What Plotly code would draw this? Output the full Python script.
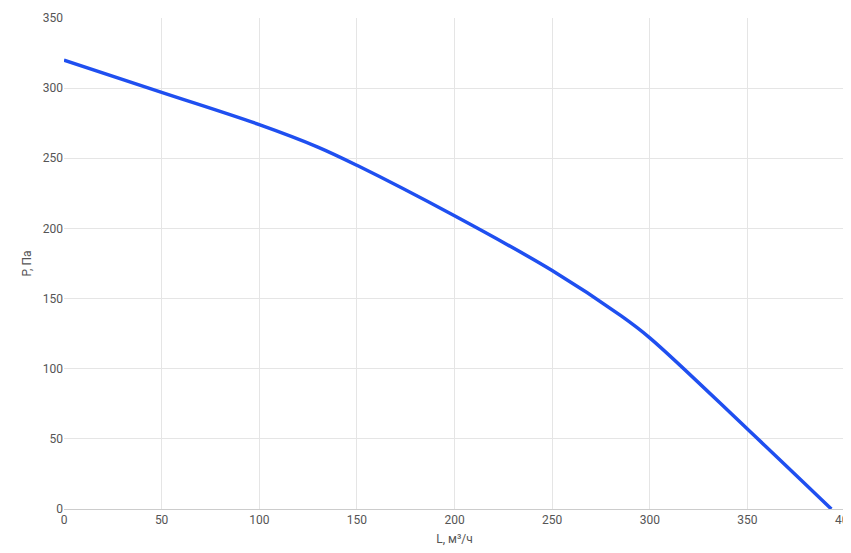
import plotly.graph_objects as go

L = [0, 50, 100, 130, 150, 200, 250, 285, 300, 350, 393]
P = [320, 297, 274, 258, 245, 209, 170, 138, 122, 57, 0]

fig = go.Figure(go.Scatter(x=L, y=P, mode="lines", line=dict(color="#1f4ff0", width=3.5, shape="spline", smoothing=1.0)))
fig.update_layout(
    width=851, height=553, margin=dict(l=56, r=14, t=10, b=52),
    paper_bgcolor="white", plot_bgcolor="white", showlegend=False,
    font=dict(family="Roboto", size=12, color="#555"),
)
fig.update_xaxes(range=[0, 400], dtick=50, showgrid=True, gridcolor="#e5e5e5", zeroline=False, automargin=False,
                 showline=True, linecolor="#ccc", ticks="outside", ticklen=0,
                 title=dict(text="L, м³/ч", standoff=8, font=dict(size=12)))
fig.update_yaxes(range=[0, 350], dtick=50, showgrid=True, gridcolor="#e5e5e5", zeroline=False, automargin=False,
                 title=dict(text="P, Па", standoff=8, font=dict(size=12)))
fig.write_html("out.html")
